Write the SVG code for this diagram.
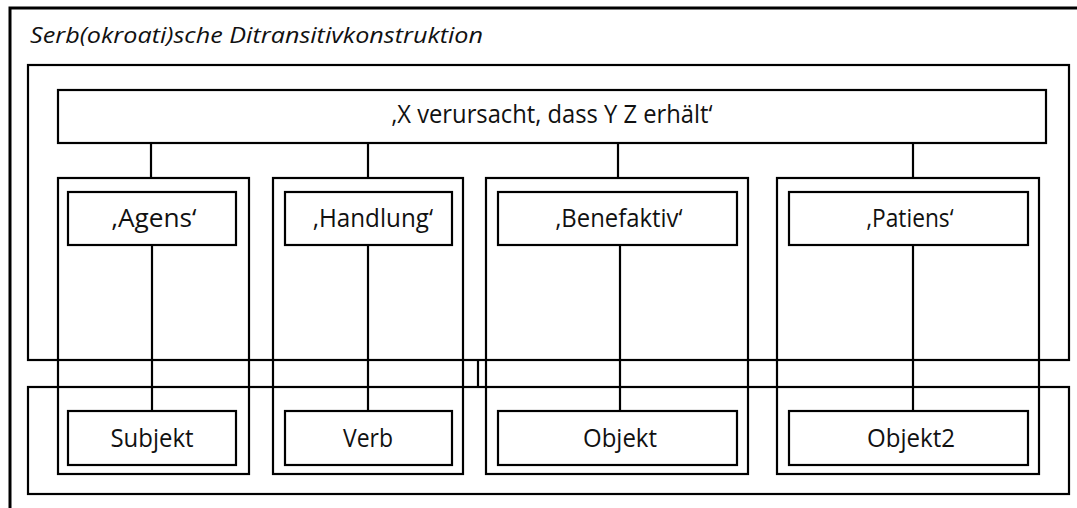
<svg xmlns="http://www.w3.org/2000/svg" width="1077" height="508" viewBox="0 0 1077 508">
  <style>
    .box { fill: none; stroke: #000; stroke-width: 2.2; }
    .frame { fill: none; stroke: #000; stroke-width: 3; }
    .link { stroke: #000; stroke-width: 2.2; fill: none; }
    .lbl { font-family: "Open Sans", "Liberation Sans", sans-serif; font-size: 25px; fill: #111; text-anchor: middle; }
    .title { font-family: "Open Sans", "Liberation Sans", sans-serif; font-size: 22px; font-style: italic; fill: #111; }
  </style>
  <rect width="1077" height="508" fill="#fff"/>

  <!-- construction frame (runs past the right and bottom edges) -->
  <g id="construction">
    <rect class="frame" x="10" y="8" width="1090" height="520"/>
    <text class="title" x="30" y="43" textLength="453" lengthAdjust="spacingAndGlyphs">Serb(okroati)sche Ditransitivkonstruktion</text>
  </g>

  <!-- semantic and syntactic layers -->
  <g id="semantics">
    <rect class="box" x="28" y="65" width="1041" height="295"/>
  </g>
  <g id="syntax">
    <rect class="box" x="28" y="387" width="1041" height="107"/>
  </g>

  <!-- overall meaning -->
  <g id="meaning">
    <rect class="box" x="58" y="90" width="988" height="53"/>
    <text class="lbl" x="552" y="123" textLength="321" lengthAdjust="spacingAndGlyphs">‚X verursacht, dass Y Z erhält‘</text>
  </g>

  <!-- argument columns -->
  <g id="col-agens">
    <rect class="box" x="58" y="178" width="191" height="296"/>
  </g>
  <g id="col-handlung">
    <rect class="box" x="273" y="178" width="190" height="296"/>
  </g>
  <g id="col-benefaktiv">
    <rect class="box" x="486" y="178" width="262" height="296"/>
  </g>
  <g id="col-patiens">
    <rect class="box" x="777" y="178" width="262" height="296"/>
  </g>

  <!-- role nodes -->
  <g id="agens">
    <rect class="box" x="68" y="192" width="168" height="53"/>
    <text class="lbl" x="154" y="227" textLength="85" lengthAdjust="spacingAndGlyphs">‚Agens‘</text>
  </g>
  <g id="handlung">
    <rect class="box" x="285" y="192" width="167" height="53"/>
    <text class="lbl" x="373" y="227" textLength="120" lengthAdjust="spacingAndGlyphs">‚Handlung‘</text>
  </g>
  <g id="benefaktiv">
    <rect class="box" x="498" y="192" width="239" height="53"/>
    <text class="lbl" x="619" y="227" textLength="127" lengthAdjust="spacingAndGlyphs">‚Benefaktiv‘</text>
  </g>
  <g id="patiens">
    <rect class="box" x="789" y="192" width="239" height="53"/>
    <text class="lbl" x="910" y="227" textLength="87" lengthAdjust="spacingAndGlyphs">‚Patiens‘</text>
  </g>

  <!-- form nodes -->
  <g id="subjekt">
    <rect class="box" x="68" y="411" width="168" height="54"/>
    <text class="lbl" x="152" y="447" textLength="83" lengthAdjust="spacingAndGlyphs">Subjekt</text>
  </g>
  <g id="verb">
    <rect class="box" x="285" y="411" width="167" height="54"/>
    <text class="lbl" x="368" y="447" textLength="50" lengthAdjust="spacingAndGlyphs">Verb</text>
  </g>
  <g id="objekt">
    <rect class="box" x="498" y="411" width="239" height="54"/>
    <text class="lbl" x="620" y="447" textLength="74" lengthAdjust="spacingAndGlyphs">Objekt</text>
  </g>
  <g id="objekt2">
    <rect class="box" x="789" y="411" width="239" height="54"/>
    <text class="lbl" x="911" y="447" textLength="88" lengthAdjust="spacingAndGlyphs">Objekt2</text>
  </g>

  <!-- connectors -->
  <g id="connectors">
    <line class="link" x1="151" y1="143" x2="151" y2="178"/>
    <line class="link" x1="368" y1="143" x2="368" y2="178"/>
    <line class="link" x1="618" y1="143" x2="618" y2="178"/>
    <line class="link" x1="913" y1="143" x2="913" y2="178"/>
    <line class="link" x1="152" y1="245" x2="152" y2="411"/>
    <line class="link" x1="368" y1="245" x2="368" y2="411"/>
    <line class="link" x1="620" y1="245" x2="620" y2="411"/>
    <line class="link" x1="913" y1="245" x2="913" y2="411"/>
    <line class="link" x1="478" y1="360" x2="478" y2="387"/>
  </g>
</svg>
